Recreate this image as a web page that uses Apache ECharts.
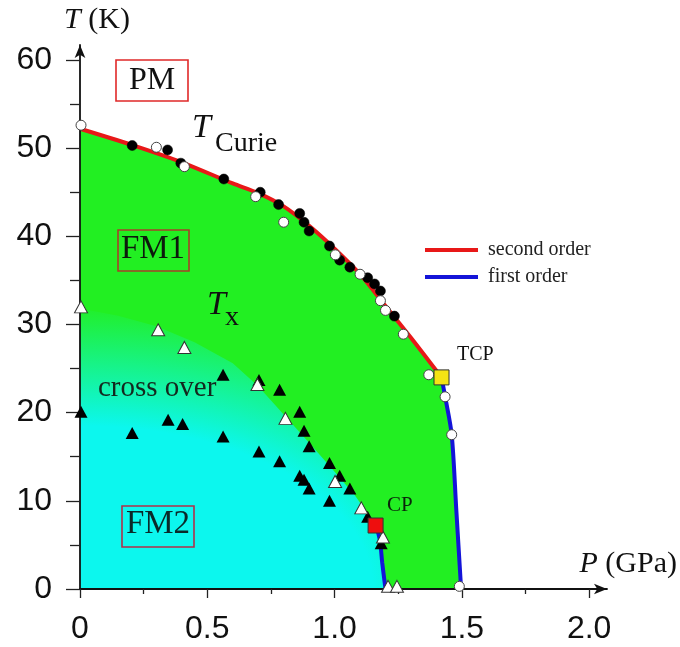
<!DOCTYPE html>
<html>
<head>
<meta charset="utf-8">
<title>P-T phase diagram</title>
<script src="https://cdn.jsdelivr.net/npm/echarts@6/dist/echarts.min.js"></script>
<style>
  html, body { margin: 0; padding: 0; background: #fff; }
  #chart { width: 680px; height: 647px; }
</style>
</head>
<body>
<div id="chart"></div>
<script>
// ---- axis ticks ----
const pTicks = [0, 0.5, 1.0, 1.5, 2.0];
const pTickLabels = ['0', '0.5', '1.0', '1.5', '2.0'];
const tTicks = [0, 10, 20, 30, 40, 50, 60];

// ---- phase boundaries (P in GPa, T in K) ----
// second-order line T_Curie (PM / FM1), ends at the tricritical point
const curieP = [0, 0.2, 0.4, 0.6, 0.7, 0.8, 0.9, 1.0, 1.1, 1.2, 1.3, 1.42];
const curieT = [52.2, 50.4, 48.4, 46.0, 44.9, 43.4, 41.2, 38.6, 35.7, 32.1, 28.5, 24.0];
// first-order line PM / FM1 below the tricritical point
const foHighP = [1.42, 1.435, 1.46, 1.478, 1.497];
const foHighT = [24.0, 21.7, 17.5, 9.0, 0];
// first-order line FM1 / FM2 below the critical point
const foLowP = [1.163, 1.178, 1.187, 1.2];
const foLowT = [7.2, 5.5, 3.0, 0];

// upper edge of the FM2 / cross-over shading (T_x region)
const xoverP = [0, 0.15, 0.3, 0.45, 0.6, 0.7, 0.8, 0.9, 1.0, 1.08, 1.163];
const xoverT = [31.8, 31.0, 29.8, 28.0, 25.6, 23.0, 19.8, 16.6, 13.3, 10.6, 7.2];
// extent of the pure FM2 colour along each axis (GPa, K)
const fm2CoreP = 1.15;
const fm2CoreT = 18.5;

// ---- measured points ----
const curieOpenP = [0.004, 0.30, 0.41, 0.69, 0.80, 1.003, 1.10, 1.18, 1.20, 1.27, 1.37, 1.434, 1.46, 1.49];
const curieOpenT = [52.6, 50.1, 47.9, 44.5, 41.6, 37.9, 35.7, 32.7, 31.6, 28.9, 24.3, 21.8, 17.5, 0.3];
const curieFullP = [0.205, 0.344, 0.396, 0.565, 0.708, 0.78, 0.863, 0.88, 0.90, 0.98, 1.02, 1.06, 1.13, 1.157, 1.18, 1.235];
const curieFullT = [50.3, 49.8, 48.3, 46.5, 45.0, 43.6, 42.6, 41.6, 40.6, 38.9, 37.3, 36.5, 35.3, 34.6, 33.8, 30.95];
const txOpenP = [0.004, 0.307, 0.41, 0.697, 0.807, 1.002, 1.105, 1.19, 1.21, 1.245];
const txOpenT = [32.0, 29.4, 27.4, 23.2, 19.35, 12.2, 9.2, 5.9, 0.3, 0.3];
const txFullP = [0.004, 0.205, 0.346, 0.403, 0.562, 0.562, 0.703, 0.784, 0.863, 0.88, 0.90,
                 0.703, 0.784, 0.863, 0.88, 0.90, 0.98, 1.02, 1.06, 0.98, 1.13, 1.183];
const txFullT = [20.1, 17.7, 19.2, 18.7, 24.3, 17.3, 23.7, 22.6, 20.1, 17.95, 16.2,
                 15.6, 14.5, 12.85, 12.4, 11.4, 14.3, 12.85, 11.4, 10.0, 8.2, 5.2];
const tcpPoint = [1.42, 24.0];
const cpPoint = [1.161, 7.2];

// ---- styling ----
const GREEN = '#22ef22';
const CYAN = '#0cf7ee';
const RED = '#e81818';
const BLUE = '#1414d8';
const SERIF = '"Liberation Serif", "Times New Roman", serif';
const SANS = '"Liberation Sans", Arial, sans-serif';

const pairs = (P, T) => P.map((p, i) => [p, T[i]]);

const chart = echarts.init(document.getElementById('chart'), null, { renderer: 'canvas' });

// FM2 region with a soft elliptical blend into FM1
function renderCrossover(params, api) {
  const o = api.coord([0, 0]);
  const a = api.size([fm2CoreP, 0])[0];
  const b = api.size([0, fm2CoreT])[1];
  const k = a / b;
  const outline = [[0, 0]]
    .concat(pairs(xoverP, xoverT))
    .concat(pairs(foLowP, foLowT).slice(1));
  const pts = outline.map(function (d) {
    const c = api.coord(d);
    return [c[0] - o[0], (c[1] - o[1]) * k];
  });
  return {
    type: 'group',
    x: o[0],
    y: o[1],
    scaleY: 1 / k,
    children: [{
      type: 'polygon',
      shape: { points: pts },
      style: {
        fill: {
          type: 'radial', x: 0, y: 0, r: a * 1.75, global: true,
          colorStops: [
            { offset: 0, color: CYAN },
            { offset: 1 / 1.75, color: CYAN },
            { offset: 1, color: GREEN }
          ]
        }
      }
    }]
  };
}

const markerCommon = { type: 'scatter', z: 6, silent: true };

const option = {
  animation: false,
  backgroundColor: '#fff',
  grid: { left: 80, right: 72, top: 45, bottom: 58 },
  legend: {
    orient: 'vertical',
    left: 420,
    top: 235,
    itemWidth: 53,
    itemHeight: 4,
    itemGap: 7,
    selectedMode: false,
    data: [
      { name: 'second order', icon: 'rect' },
      { name: 'first order', icon: 'rect' }
    ],
    textStyle: { fontFamily: SERIF, fontSize: 20, color: '#222', lineHeight: 20, padding: [0, 0, 0, 5] }
  },
  xAxis: {
    type: 'value',
    min: 0,
    max: 2.07,
    z: 5,
    name: '{i|P} (GPa)',
    nameLocation: 'end',
    nameGap: 70,
    nameTextStyle: {
      fontFamily: SERIF, fontSize: 30, color: '#111',
      align: 'right', verticalAlign: 'bottom', padding: [0, 0, 10, 0],
      rich: { i: { fontFamily: SERIF, fontSize: 30, fontStyle: 'italic', color: '#111' } }
    },
    splitLine: { show: false },
    axisLine: {
      lineStyle: { color: '#111', width: 1.8 },
      symbol: ['none', 'arrow'],
      symbolSize: [8, 13]
    },
    axisTick: { customValues: pTicks, length: 9, lineStyle: { color: '#222', width: 1.3 } },
    minorTick: { show: true, splitNumber: 2, length: 5, lineStyle: { color: '#222', width: 1.3 } },
    axisLabel: {
      customValues: pTicks,
      formatter: function (v) { return pTickLabels[pTicks.indexOf(v)]; },
      fontFamily: SANS, fontSize: 32, color: '#111', margin: 24
    }
  },
  yAxis: {
    type: 'value',
    min: 0,
    max: 61.7,
    z: 5,
    name: '{i|T} (K)',
    nameLocation: 'end',
    nameGap: 10,
    nameTextStyle: {
      fontFamily: SERIF, fontSize: 30, color: '#111',
      align: 'center', verticalAlign: 'bottom', padding: [0, 0, 0, 34],
      rich: { i: { fontFamily: SERIF, fontSize: 30, fontStyle: 'italic', color: '#111' } }
    },
    splitLine: { show: false },
    axisLine: {
      lineStyle: { color: '#111', width: 1.8 },
      symbol: ['none', 'arrow'],
      symbolSize: [8, 13]
    },
    axisTick: { customValues: tTicks, length: 14, lineStyle: { color: '#222', width: 1.3 } },
    minorTick: { show: true, splitNumber: 2, length: 10, lineStyle: { color: '#222', width: 1.3 } },
    axisLabel: {
      customValues: tTicks,
      fontFamily: SANS, fontSize: 32, color: '#111', margin: 28
    }
  },
  series: [
    // FM1 region below the PM boundary
    {
      type: 'line', name: 'FM1',
      data: pairs(curieP.concat(foHighP.slice(1)), curieT.concat(foHighT.slice(1))),
      symbol: 'none', silent: true, z: 1,
      lineStyle: { width: 0, opacity: 0 },
      areaStyle: { color: GREEN, opacity: 1 }
    },
    // FM2 region and cross-over
    {
      type: 'custom', name: 'FM2', data: [[0, 0]], silent: true, z: 1, clip: true,
      renderItem: renderCrossover
    },
    {
      type: 'line', name: 'second order', data: pairs(curieP, curieT),
      smooth: 0.3, symbol: 'none', silent: true, z: 3,
      itemStyle: { color: RED }, lineStyle: { color: RED, width: 4 }
    },
    {
      type: 'line', name: 'first order', data: pairs(foHighP, foHighT),
      smooth: 0.3, symbol: 'none', silent: true, z: 3,
      itemStyle: { color: BLUE }, lineStyle: { color: BLUE, width: 4 }
    },
    {
      type: 'line', name: 'first order', data: pairs(foLowP, foLowT),
      smooth: 0.3, symbol: 'none', silent: true, z: 3,
      itemStyle: { color: BLUE }, lineStyle: { color: BLUE, width: 4 }
    },
    Object.assign({}, markerCommon, {
      name: 'T_Curie (filled)', data: pairs(curieFullP, curieFullT),
      symbol: 'circle', symbolSize: 10,
      itemStyle: { color: '#000', borderColor: '#000', borderWidth: 0.5, opacity: 1 }
    }),
    Object.assign({}, markerCommon, {
      name: 'T_Curie (open)', data: pairs(curieOpenP, curieOpenT),
      symbol: 'circle', symbolSize: 10,
      itemStyle: { color: '#fff', borderColor: '#444', borderWidth: 1, opacity: 1 }
    }),
    Object.assign({}, markerCommon, {
      name: 'T_x (filled)', data: pairs(txFullP, txFullT),
      symbol: 'triangle', symbolSize: [13, 12],
      itemStyle: { color: '#000', opacity: 1 }
    }),
    Object.assign({}, markerCommon, {
      name: 'T_x (open)', data: pairs(txOpenP, txOpenT),
      symbol: 'triangle', symbolSize: [13, 12],
      itemStyle: { color: '#fff', borderColor: '#333', borderWidth: 1, opacity: 1 }
    }),
    Object.assign({}, markerCommon, {
      name: 'TCP', data: [tcpPoint], z: 7,
      symbol: 'rect', symbolSize: 15,
      itemStyle: { color: '#f4e414', borderColor: '#333', borderWidth: 1, opacity: 1 }
    }),
    Object.assign({}, markerCommon, {
      name: 'CP', data: [cpPoint], z: 7,
      symbol: 'rect', symbolSize: 15,
      itemStyle: { color: '#ee0e0e', borderColor: '#333', borderWidth: 1, opacity: 1 }
    })
  ],
  graphic: [
    // PM
    { type: 'rect', z: 10, silent: true, shape: { x: 116, y: 60, width: 72, height: 41 },
      style: { fill: '#fff', stroke: '#e02828', lineWidth: 1.6 } },
    { type: 'text', z: 11, silent: true, x: 152, y: 81,
      style: { text: 'PM', font: '32px ' + SERIF, fill: '#111', align: 'center', verticalAlign: 'middle' } },
    // T_Curie
    { type: 'text', z: 11, silent: true, x: 192, y: 128.5,
      style: { text: 'T', font: 'italic 34px ' + SERIF, fill: '#111', align: 'left', verticalAlign: 'middle' } },
    { type: 'text', z: 11, silent: true, x: 215, y: 143.5,
      style: { text: 'Curie', font: '28px ' + SERIF, fill: '#111', align: 'left', verticalAlign: 'middle' } },
    // FM1
    { type: 'rect', z: 10, silent: true, shape: { x: 118, y: 230, width: 71, height: 41 },
      style: { fill: 'none', stroke: '#a8402a', lineWidth: 1.6 } },
    { type: 'text', z: 11, silent: true, x: 153, y: 249,
      style: { text: 'FM1', font: '33px ' + SERIF, fill: '#0d1a0d', align: 'center', verticalAlign: 'middle' } },
    // T_x
    { type: 'text', z: 11, silent: true, x: 207, y: 305.5,
      style: { text: 'T', font: 'italic 34px ' + SERIF, fill: '#111', align: 'left', verticalAlign: 'middle' } },
    { type: 'text', z: 11, silent: true, x: 225, y: 317.5,
      style: { text: 'x', font: '28px ' + SERIF, fill: '#111', align: 'left', verticalAlign: 'middle' } },
    // cross over
    { type: 'text', z: 11, silent: true, x: 98, y: 388,
      style: { text: 'cross over', font: '29px ' + SERIF, fill: '#14281e', align: 'left', verticalAlign: 'middle' } },
    // FM2
    { type: 'rect', z: 10, silent: true, shape: { x: 122, y: 506, width: 72, height: 41 },
      style: { fill: 'none', stroke: '#b0304a', lineWidth: 1.6 } },
    { type: 'text', z: 11, silent: true, x: 158, y: 524,
      style: { text: 'FM2', font: '33px ' + SERIF, fill: '#0a2a2a', align: 'center', verticalAlign: 'middle' } },
    // CP / TCP
    { type: 'text', z: 11, silent: true, x: 387, y: 505,
      style: { text: 'CP', font: '21px ' + SERIF, fill: '#0b240b', align: 'left', verticalAlign: 'middle' } },
    { type: 'text', z: 11, silent: true, x: 457, y: 355,
      style: { text: 'TCP', font: '20px ' + SERIF, fill: '#111', align: 'left', verticalAlign: 'middle' } }
  ]
};

chart.setOption(option);
</script>
</body>
</html>
